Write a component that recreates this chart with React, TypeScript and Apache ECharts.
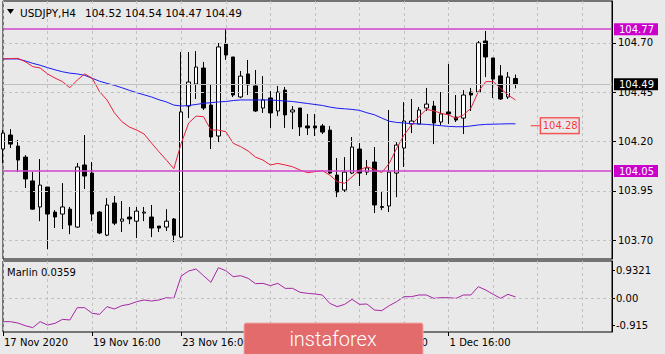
import React, { useEffect, useRef } from 'react';
import * as echarts from 'echarts';

const symbolTitle = 'USDJPY,H4';
const lastQuote = '104.52 104.54 104.47 104.49';
const indicatorTitle = 'Marlin 0.0359';

const days = ['17 Nov', '18 Nov', '19 Nov', '20 Nov', '23 Nov', '24 Nov', '25 Nov', '26 Nov', '27 Nov', '30 Nov', '1 Dec', '2 Dec', '3 Dec'];
const hours = ['00:00', '04:00', '08:00', '12:00', '16:00', '20:00'];

const open = [104.162, 104.233, 104.177, 104.121, 104.0, 103.868, 103.969, 103.842, 103.832, 103.857,
  103.766, 104.081, 104.04, 103.842, 103.725, 103.888, 103.796, 103.817, 103.796, 103.837,
  103.817, 103.771, 103.766, 103.807, 103.715, 104.38, 104.492, 104.573, 104.385, 104.228,
  104.695, 104.629, 104.426, 104.543, 104.482, 104.37, 104.421, 104.355, 104.461, 104.35,
  104.37, 104.279, 104.279, 104.279, 104.258, 104.03, 103.954, 104.04, 104.162, 104.045,
  104.096, 103.87, 103.873, 104.04, 104.167, 104.289, 104.289, 104.37, 104.38, 104.299,
  104.35, 104.324, 104.319, 104.451, 104.451, 104.71, 104.624, 104.533, 104.426, 104.52];
const high = [104.258, 104.263, 104.208, 104.131, 104.045, 104.111, 103.969, 103.852, 103.989, 103.868,
  104.091, 104.233, 104.096, 103.847, 103.913, 103.924, 103.898, 103.868, 103.868, 103.868,
  103.878, 103.771, 103.857, 103.812, 104.654, 104.654, 104.659, 104.604, 104.492, 104.7,
  104.771, 104.629, 104.558, 104.614, 104.563, 104.532, 104.456, 104.482, 104.477, 104.38,
  104.37, 104.34, 104.34, 104.289, 104.279, 104.116, 104.121, 104.223, 104.192, 104.106,
  104.172, 103.944, 104.36, 104.197, 104.4, 104.416, 104.375, 104.472, 104.406, 104.451,
  104.593, 104.436, 104.461, 104.472, 104.71, 104.761, 104.624, 104.588, 104.553, 104.54];
const low = [104.091, 104.167, 104.045, 103.964, 103.855, 103.796, 103.654, 103.761, 103.756, 103.73,
  103.762, 103.959, 103.796, 103.73, 103.72, 103.776, 103.741, 103.781, 103.71, 103.796,
  103.715, 103.741, 103.746, 103.69, 103.71, 104.319, 104.416, 104.36, 104.162, 104.197,
  104.614, 104.426, 104.42, 104.436, 104.35, 104.345, 104.269, 104.329, 104.269, 104.263,
  104.228, 104.233, 104.228, 104.238, 104.035, 103.918, 103.944, 104.035, 103.974, 104.03,
  103.837, 103.852, 103.842, 103.918, 104.071, 104.243, 104.289, 104.355, 104.187, 104.284,
  104.289, 104.299, 104.238, 104.355, 104.451, 104.527, 104.421, 104.411, 104.416, 104.47];
const close = [104.243, 104.187, 104.106, 104.01, 103.857, 103.979, 103.832, 103.817, 103.868, 103.776,
  104.071, 104.025, 103.832, 103.736, 103.878, 103.786, 103.807, 103.807, 103.847, 103.842,
  103.761, 103.761, 103.796, 103.725, 104.35, 104.502, 104.578, 104.37, 104.223, 104.68,
  104.639, 104.436, 104.532, 104.487, 104.355, 104.411, 104.345, 104.451, 104.335, 104.36,
  104.274, 104.269, 104.269, 104.248, 104.04, 103.944, 104.045, 104.172, 104.04, 104.066,
  103.878, 103.866, 104.045, 104.182, 104.304, 104.304, 104.36, 104.39, 104.294, 104.34,
  104.34, 104.309, 104.436, 104.436, 104.7, 104.629, 104.517, 104.416, 104.527, 104.49];

const maFast = [104.619, 104.621, 104.622, 104.605, 104.58, 104.573, 104.543, 104.522, 104.504, 104.473,
  104.512, 104.543, 104.522, 104.453, 104.411, 104.346, 104.301, 104.274, 104.258, 104.238,
  104.192, 104.148, 104.106, 104.062, 104.191, 104.294, 104.329, 104.326, 104.258, 104.258,
  104.25, 104.191, 104.174, 104.152, 104.121, 104.106, 104.081, 104.089, 104.081, 104.072,
  104.055, 104.042, 104.047, 104.052, 104.03, 103.996, 103.988, 104.021, 104.055, 104.072,
  104.059, 104.042, 104.089, 104.165, 104.233, 104.284, 104.326, 104.363, 104.356, 104.343,
  104.335, 104.318, 104.335, 104.369, 104.453, 104.504, 104.504, 104.47, 104.436, 104.411];
const maSlow = [104.619, 104.619, 104.619, 104.609, 104.597, 104.587, 104.575, 104.564, 104.554, 104.547,
  104.543, 104.536, 104.521, 104.506, 104.495, 104.485, 104.473, 104.46, 104.448, 104.437,
  104.426, 104.412, 104.401, 104.385, 104.38, 104.383, 104.388, 104.394, 104.397, 104.401,
  104.403, 104.408, 104.411, 104.411, 104.411, 104.411, 104.411, 104.408, 104.406, 104.403,
  104.398, 104.393, 104.388, 104.383, 104.375, 104.369, 104.366, 104.363, 104.358, 104.346,
  104.336, 104.319, 104.303, 104.297, 104.294, 104.291, 104.289, 104.287, 104.284, 104.28,
  104.277, 104.275, 104.275, 104.279, 104.284, 104.287, 104.288, 104.289, 104.29, 104.29];
const marlin = [-0.794, -0.794, -0.839, -0.928, -0.995, -0.794, -0.906, -0.85, -0.716, -0.738,
  -0.324, -0.324, -0.514, -0.548, -0.291, -0.369, -0.257, -0.213, -0.123, -0.067,
  -0.101, -0.067, 0.011, -0.011, 0.738, 0.906, 0.973, 0.749, 0.526, 1.018,
  0.917, 0.716, 0.749, 0.66, 0.481, 0.492, 0.414, 0.492, 0.324, 0.324,
  0.19, 0.157, 0.134, 0.101, -0.179, -0.291, -0.213, -0.045, -0.213, -0.201,
  -0.403, -0.425, -0.257, -0.123, 0.045, 0.045, 0.101, 0.101, -0.011, 0.011,
  0.011, -0.011, 0.101, 0.101, 0.38, 0.268, 0.123, -0.011, 0.123, 0.0359];

const priceTicks = [103.7, 103.95, 104.2, 104.45, 104.7];
const marlinTicks = [0.9321, 0, -0.915];
const levelLines = [104.77, 104.05];
const bidPrice = 104.49;
const maLabelValue = 104.28;
const emptySlots = 13;

const FONT = '"DejaVu Sans", Verdana, sans-serif';
const BG = '#e9e9e9';
const GRIDC = '#c2c2c2';

export default function App() {
  const ref = useRef<HTMLDivElement>(null);
  useEffect(() => {
    document.body.style.margin = '0';
    const bars: string[] = [];
    days.forEach((d, di) => {
      hours.forEach((h, hi) => {
        if (di === 0 && hi < 4) return;
        if (di === days.length - 1 && hi > 1) return;
        bars.push(bars.length === 0 ? d + ' 2020' : d + ' ' + h);
      });
    });
    const cats = bars.concat(Array.from({ length: emptySlots }, () => ''));
    const n = bars.length;
    const candle = open.map((o, i) => [o, close[i], low[i], high[i]]);
    const labelIdx = (i: number) => i % 12 === 0 && i < n;
    const gridIdx = (i: number) => i % 6 === 0;

    const chart = echarts.init(ref.current!, null, { renderer: 'svg', width: 665, height: 354 });
    const option: any = {
      animation: false,
      backgroundColor: BG,
      textStyle: { fontFamily: FONT },
      grid: [
        { left: 3, right: 53, top: 1, height: 258, show: true, borderColor: '#000', borderWidth: 1 },
        { left: 3, right: 53, top: 261, height: 71, show: true, borderColor: '#000', borderWidth: 1 },
      ],
      xAxis: [
        {
          type: 'category', gridIndex: 0, data: cats, boundaryGap: false, position: 'bottom',
          axisLine: { show: false, onZero: false }, axisTick: { show: false }, axisLabel: { show: false },
          splitLine: { show: true, interval: gridIdx, lineStyle: { color: GRIDC, type: [3, 3], width: 1 } },
        },
        {
          type: 'category', gridIndex: 1, data: cats, boundaryGap: false, position: 'bottom',
          axisLine: { show: false, onZero: false },
          axisTick: { show: true, interval: labelIdx, length: 4, lineStyle: { color: '#000' } },
          axisLabel: { show: true, interval: labelIdx, align: 'left', margin: 5, color: '#000', fontSize: 10, fontFamily: FONT, padding: [0, 0, 0, 1] },
          splitLine: { show: true, interval: gridIdx, lineStyle: { color: GRIDC, type: [3, 3], width: 1 } },
        },
      ],
      yAxis: [
        {
          type: 'value', gridIndex: 0, position: 'right', min: 103.604, max: 104.913, scale: true,
          axisLine: { show: true, onZero: false, lineStyle: { color: '#000' } },
          axisTick: { show: true, customValues: priceTicks, length: 4, lineStyle: { color: '#000' } },
          axisLabel: { show: true, customValues: priceTicks, formatter: (v: number) => v.toFixed(2), margin: 6, color: '#000', fontSize: 10, fontFamily: FONT },
          splitLine: { show: false },
        },
        {
          type: 'value', gridIndex: 1, position: 'right', min: -1.141, max: 1.242,
          axisLine: { show: true, onZero: false, lineStyle: { color: '#000' } },
          axisTick: { show: true, customValues: marlinTicks, length: 3, lineStyle: { color: '#000' } },
          axisLabel: { show: true, customValues: marlinTicks, formatter: (v: number) => (v === 0 ? '0.00' : String(v)), margin: 4, color: '#000', fontSize: 10, fontFamily: FONT },
          splitLine: { show: false },
        },
      ],
      series: [
        {
          type: 'line', xAxisIndex: 0, yAxisIndex: 0, data: [], z: 1, silent: true,
          markLine: {
            silent: true, symbol: ['none', 'none'], animation: false,
            label: { show: false },
            data: [
              ...priceTicks.map((v) => ({ yAxis: v, lineStyle: { color: GRIDC, type: [3, 3], width: 1 } })),
              { yAxis: bidPrice, lineStyle: { color: '#c0c0c0', type: 'solid', width: 1 } },
            ],
          },
        },
        {
          type: 'candlestick', xAxisIndex: 0, yAxisIndex: 0, data: candle, barWidth: 4, z: 2,
          itemStyle: { color: '#ffffff', color0: '#000000', borderColor: '#000000', borderColor0: '#000000', borderWidth: 1 },
        },
        {
          type: 'line', xAxisIndex: 0, yAxisIndex: 0, data: maSlow, symbol: 'none', z: 3,
          lineStyle: { color: '#1a1af5', width: 1 },
        },
        {
          type: 'line', xAxisIndex: 0, yAxisIndex: 0, data: maFast, symbol: 'none', z: 3,
          lineStyle: { color: '#e8203c', width: 1 },
        },
        {
          type: 'line', xAxisIndex: 0, yAxisIndex: 0, data: [], z: 4, silent: true,
          markLine: {
            silent: true, symbol: ['none', 'none'], animation: false,
            data: [
              ...levelLines.map((v) => ({
                yAxis: v,
                lineStyle: { color: '#cc44cc', type: 'solid', width: 1.6 },
                label: {
                  show: true, position: 'end', distance: 2, formatter: v.toFixed(2), color: '#ffffff',
                  backgroundColor: '#cc00cc', padding: [1, 4, 0, 5], fontSize: 10, lineHeight: 11, fontFamily: FONT,
                },
              })),
              {
                yAxis: bidPrice,
                lineStyle: { color: 'rgba(0,0,0,0)', width: 0 },
                label: {
                  show: true, position: 'end', distance: 2, formatter: bidPrice.toFixed(2), color: '#ffffff',
                  backgroundColor: '#000000', padding: [1, 4, 0, 5], fontSize: 10, lineHeight: 11, fontFamily: FONT,
                },
              },
            ],
          },
        },
        {
          type: 'scatter', xAxisIndex: 0, yAxisIndex: 0, z: 5, silent: true,
          data: [[n + 2, maLabelValue]],
          symbol: 'rect', symbolSize: [9, 1], symbolOffset: [-2.5, 0],
          itemStyle: { color: '#ff0000' },
          label: {
            show: true, position: 'right', distance: 1, formatter: maLabelValue.toFixed(2), color: '#ff0000',
            borderColor: '#ff0000', borderWidth: 1, backgroundColor: BG, padding: [3, 1, 2, 2], fontSize: 10, fontFamily: FONT,
          },
        },
        {
          type: 'line', xAxisIndex: 1, yAxisIndex: 1, data: marlin, symbol: 'none', z: 3,
          lineStyle: { color: '#a626a4', width: 1 },
          markLine: {
            silent: true, symbol: ['none', 'none'], animation: false, label: { show: false },
            data: [{ yAxis: 0, lineStyle: { color: GRIDC, type: [3, 3], width: 1 } }],
          },
        },
      ],
      graphic: [
        { type: 'polygon', shape: { points: [[7, 9], [14, 9], [10.5, 14]] }, style: { fill: '#000' }, z: 10 },
        { type: 'text', x: 20, y: 12.5, style: { text: symbolTitle, fill: '#000', fontSize: 10.5, fontFamily: FONT, verticalAlign: 'middle' }, z: 10 },
        { type: 'text', x: 85, y: 12.5, style: { text: lastQuote, fill: '#000', fontSize: 10.5, fontFamily: FONT, verticalAlign: 'middle' }, z: 10 },
        { type: 'text', x: 7, y: 272.5, style: { text: indicatorTitle, fill: '#000', fontSize: 10, fontFamily: FONT, verticalAlign: 'middle' }, z: 10 },
        { type: 'rect', shape: { x: 244, y: 323, width: 179, height: 33, r: 2 }, style: { fill: '#e36b6b', stroke: '#f2a9a9', lineWidth: 1 }, z: 20 },
        { type: 'text', x: 333, y: 339, style: { text: 'instaforex', fill: '#ffffff', fontSize: 20, fontWeight: 300, fontFamily: 'Roboto, "Open Sans", sans-serif', align: 'center', verticalAlign: 'middle' }, z: 21 },
      ],
    };
    chart.setOption(option);
    return () => chart.dispose();
  }, []);
  return <div ref={ref} style={{ width: 665, height: 354 }} />;
}
